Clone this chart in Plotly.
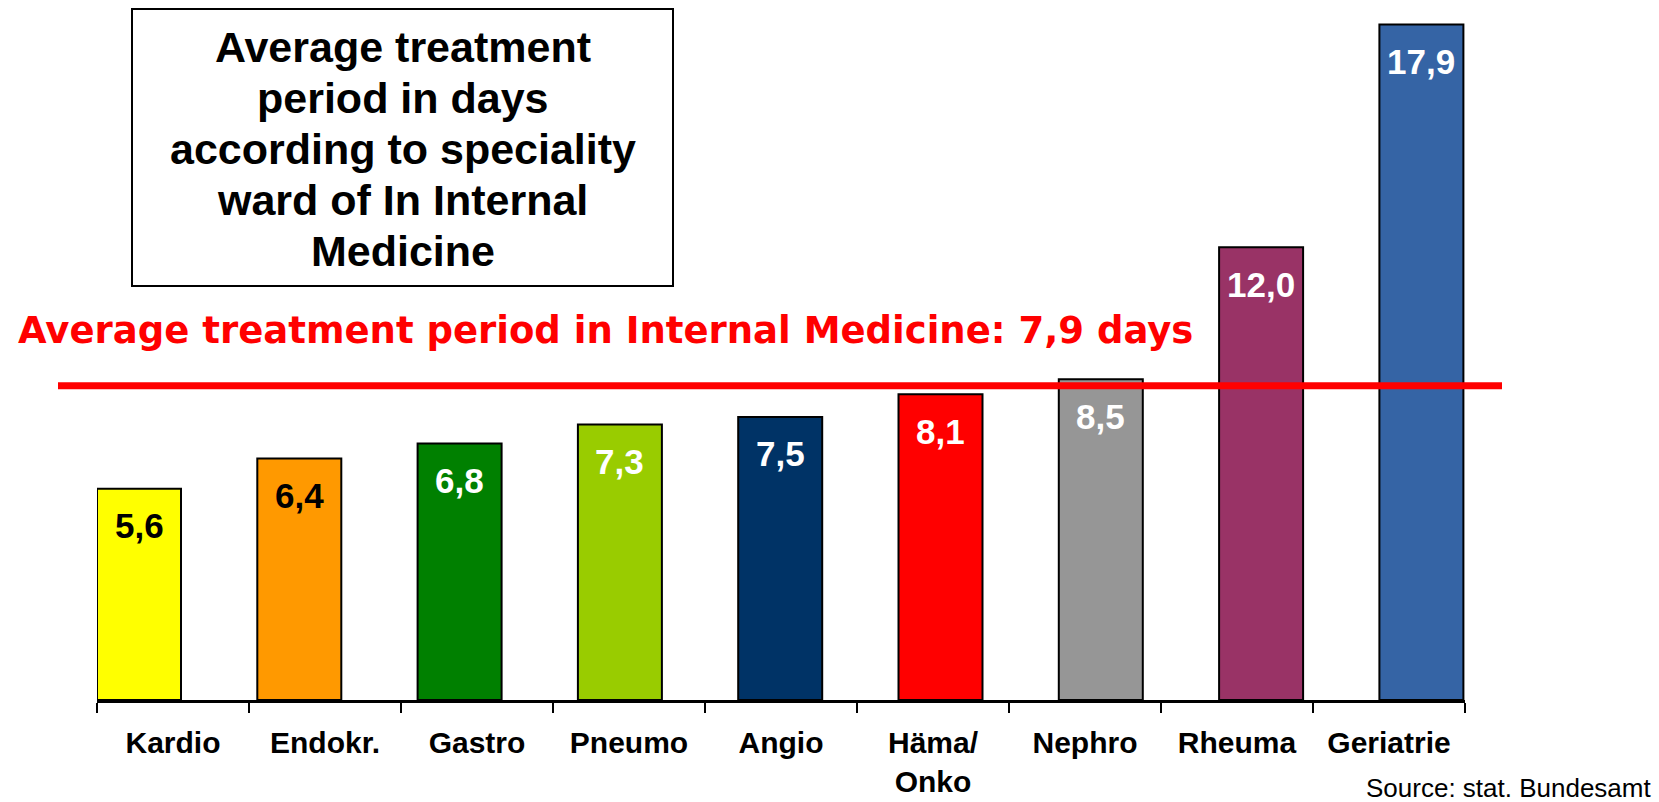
import plotly.graph_objects as go

# ---- data ----
categories = ["Kardio", "Endokr.", "Gastro", "Pneumo", "Angio", "Häma/<br>Onko", "Nephro", "Rheuma", "Geriatrie"]
values = [5.6, 6.4, 6.8, 7.3, 7.5, 8.1, 8.5, 12.0, 17.9]
bar_colors = ["#FFFF00", "#FF9900", "#008000", "#99CC00", "#003366", "#FF0000", "#969696", "#993366", "#3564A5"]
label_colors = ["#000000", "#000000", "#FFFFFF", "#FFFFFF", "#FFFFFF", "#FFFFFF", "#FFFFFF", "#FFFFFF", "#FFFFFF"]
ref_line_level = 8.33   # drawn position of the average line as seen in the picture
title_lines = ["Average treatment", "period in days", "according to speciality", "ward of In Internal", "Medicine"]
ref_text = "Average treatment period in Internal Medicine: 7,9 days"
source_text = "Source: stat. Bundesamt"

FONT = "Liberation Sans, Arial, sans-serif"

# layout geometry (pixels)
W, H = 1659, 802
ML, MR, MT, MB = 97, 194, 0, 102
PW, PH = W - ML - MR, H - MT - MB


def px_x(x):
    return (x - ML) / PW


def px_y(y):
    return 1 - (y - MT) / PH


fig = go.Figure()

fig.add_trace(go.Bar(
    x=categories, y=values, xaxis="x", yaxis="y",
    marker=dict(color=bar_colors, line=dict(color="black", width=2)),
    width=0.524, hoverinfo="skip", showlegend=False,
))

# invisible trace to populate the labelled category axis
fig.add_trace(go.Scatter(
    x=categories, y=[0] * len(categories), xaxis="x2", yaxis="y",
    mode="markers", marker=dict(opacity=0), hoverinfo="skip", showlegend=False,
))

annotations = []
for c, v, col in zip(categories, values, label_colors):
    annotations.append(dict(
        x=c, y=v, xref="x", yref="y", text=f"{v:.1f}".replace(".", ","),
        showarrow=False, yanchor="middle", yshift=-37,
        font=dict(family=FONT, size=35, color=col, weight="bold"),
    ))

# title box lines
box_left, box_right, box_top, box_bottom = 132, 673, 9, 286
first_line_y, line_step = 47.5, 50.8
for i, line in enumerate(title_lines):
    annotations.append(dict(
        x=px_x((box_left + box_right) / 2), y=px_y(first_line_y + i * line_step),
        xref="paper", yref="paper", xanchor="center", yanchor="middle",
        text=line, showarrow=False,
        font=dict(family=FONT, size=43, color="black", weight="bold"),
    ))

annotations.append(dict(
    x=px_x(16), y=px_y(330), xref="paper", yref="paper", xanchor="left", yanchor="middle",
    text=ref_text, showarrow=False,
    font=dict(family="DejaVu Sans, Verdana, sans-serif", size=37, color="#FF0000", weight="bold"),
))

annotations.append(dict(
    x=px_x(1653), y=px_y(788), xref="paper", yref="paper", xanchor="right", yanchor="middle",
    text=source_text, showarrow=False,
    font=dict(family=FONT, size=26, color="black"),
))

fig.update_layout(
    width=W, height=H,
    margin=dict(l=ML, r=MR, t=MT, b=MB),
    paper_bgcolor="white", plot_bgcolor="white",
    xaxis=dict(type="category", range=[-0.262, 8.272], showticklabels=False, ticks="",
               showgrid=False, zeroline=False, showline=False, fixedrange=True),
    xaxis2=dict(type="category", overlaying="x", anchor="y", side="bottom",
                categoryorder="array", categoryarray=categories,
                range=[-0.5, 8.5], tickson="boundaries", ticks="outside",
                ticklen=10, tickwidth=2, tickcolor="black",
                showline=True, linewidth=3, linecolor="black",
                showgrid=False, zeroline=False, ticklabelstandoff=14, fixedrange=True,
                tickfont=dict(family=FONT, size=30, color="black", weight="bold")),
    yaxis=dict(range=[0, 18.55], visible=False, fixedrange=True),
    shapes=[
        dict(type="rect", xref="paper", yref="paper",
             x0=px_x(box_left), x1=px_x(box_right), y0=px_y(box_bottom), y1=px_y(box_top),
             line=dict(color="black", width=2), fillcolor="white", layer="above"),
        dict(type="line", xref="paper", yref="y", x0=px_x(58), x1=px_x(1502),
             y0=ref_line_level, y1=ref_line_level,
             line=dict(color="#FF0000", width=7), layer="above"),
    ],
    annotations=annotations,
)

fig.write_html("out.html", config={"displayModeBar": False},
               post_script="document.body.style.margin='0';document.body.style.padding='0';")
